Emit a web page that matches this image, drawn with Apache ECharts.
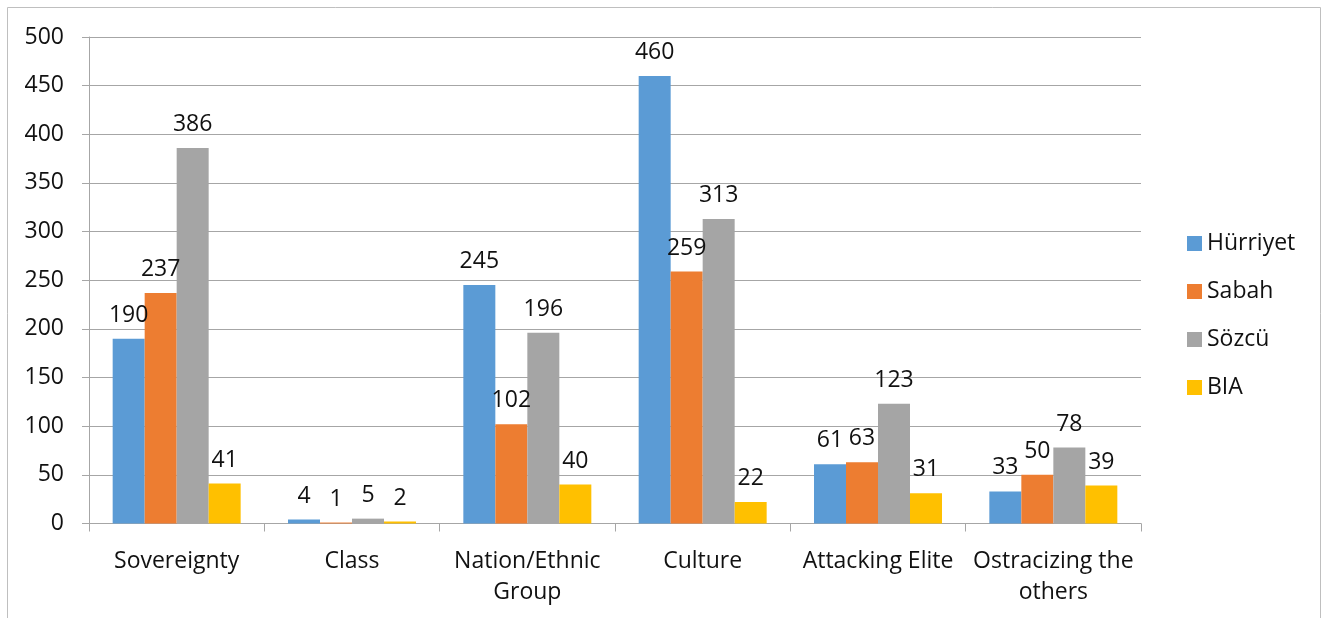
<!DOCTYPE html>
<html>
<head>
<meta charset="utf-8">
<script src="https://cdn.jsdelivr.net/npm/echarts@6/dist/echarts.min.js"></script>
<style>
  html, body { margin: 0; padding: 0; background: #fff; }
  #chart_container { width: 1327px; height: 618px; }
</style>
</head>
<body>
<div id="chart_container"></div>
<script>
"use strict";

const categories = ["Sovereignty", "Class", "Nation/Ethnic\nGroup", "Culture", "Attacking Elite", "Ostracizing the\nothers"];
const seriesNames = ["Hürriyet", "Sabah", "Sözcü", "BIA"];
const hurriyet = [190, 4, 245, 460, 61, 33];
const sabah = [237, 1, 102, 259, 63, 50];
const sozcu = [386, 5, 196, 313, 123, 78];
const bia = [41, 2, 40, 22, 31, 39];
const colors = ["#5B9BD5", "#ED7D31", "#A5A5A5", "#FFC000"];

const font = "'Open Sans', sans-serif";
const txt = "#111111";
const fs = 23;

let pageLoaded = () => {
    let chartDom = document.getElementById('chart_container');
    let myChart = echarts.init(chartDom, null, { renderer: 'canvas' });

    let mkSeries = (name, data, i) => ({
        name: name,
        type: 'bar',
        data: data,
        barGap: '0%',
        barCategoryGap: '27%',
        itemStyle: { color: colors[i] },
        label: {
            show: true,
            position: 'top',
            distance: 12,
            fontSize: fs,
            fontFamily: font,
            color: txt
        }
    });

    let optEchart = {
        animation: false,
        textStyle: { fontFamily: font },
        graphic: [{
            type: 'rect',
            shape: { x: 7.5, y: 7.5, width: 1313, height: 640 },
            style: { fill: 'none', stroke: '#bfbfbf', lineWidth: 1 }
        }],
        grid: { left: 89, right: 186, top: 37, bottom: 94.5 },
        legend: {
            orient: 'vertical',
            left: 1182,
            top: 227,
            itemWidth: 15,
            itemHeight: 15,
            itemGap: 25,
            icon: 'rect',
            textStyle: { fontSize: fs, color: txt, fontFamily: font },
            data: seriesNames
        },
        xAxis: {
            type: 'category',
            data: categories,
            axisLine: { lineStyle: { color: '#a6a6a6' } },
            axisTick: { show: true, length: 8, lineStyle: { color: '#a6a6a6' } },
            axisLabel: { fontSize: fs, color: txt, fontFamily: font, margin: 22, lineHeight: 31, interval: 0 }
        },
        yAxis: {
            type: 'value',
            min: 0,
            max: 500,
            interval: 50,
            axisLine: { show: true, lineStyle: { color: '#a6a6a6' } },
            axisTick: { show: true, length: 7, lineStyle: { color: '#a6a6a6' } },
            splitLine: { lineStyle: { color: '#a6a6a6' } },
            axisLabel: { fontSize: fs, color: txt, fontFamily: font, margin: 25 }
        },
        series: [
            mkSeries(seriesNames[0], hurriyet, 0),
            mkSeries(seriesNames[1], sabah, 1),
            mkSeries(seriesNames[2], sozcu, 2),
            mkSeries(seriesNames[3], bia, 3)
        ]
    };

    myChart.setOption(optEchart);
    console.log(`chart ready`);
};

window.addEventListener('load', pageLoaded, false);
</script>
</body>
</html>
